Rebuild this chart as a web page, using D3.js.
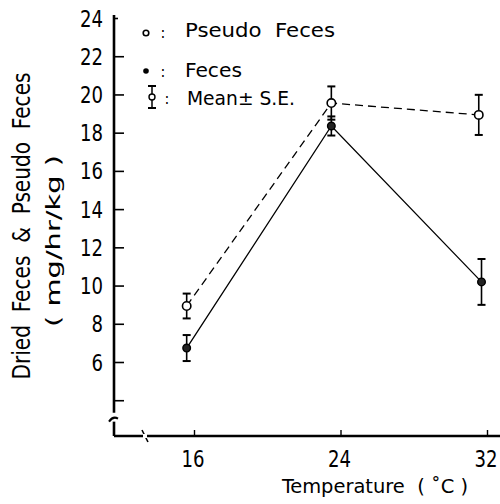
<!DOCTYPE html>
<html><head><meta charset="utf-8">
<script src="https://cdn.jsdelivr.net/npm/d3@7"></script>
<style>html,body{margin:0;padding:0;background:#fff;}svg{display:block;}text{white-space:pre;}</style>
</head><body>
<script>
// ---- data ----
const temps = [15.6, 23.5, 31.55];          // plotted x positions (°C)
const pseudoMean = [8.93, 19.55, 18.93];
const pseudoSE   = [0.65, 0.87, 1.05];
const fecesMean  = [6.73, 18.35, 10.19];
const fecesSE    = [0.68, 0.5, 1.2];
const xTickValues = [16, 24, 32];
const yTickValues = [4, 6, 8, 10, 12, 14, 16, 18, 20, 22, 24];
const yTickLabels = ["", "6", "8", "10", "12", "14", "16", "18", "20", "22", "24"];
const legendLabels = ["Pseudo  Feces", "Feces", "Mean\u00B1 S.E."];
const xTitle = "Temperature  ( \u02DAC )";
const yTitle1 = "Dried  Feces  &  Pseudo  Feces";
const yTitle2 = "( mg/hr/kg )";

const W = 500, H = 504;
const FONT = "'DejaVu Sans Condensed','DejaVu Sans',sans-serif";
const svg = d3.select("body").append("svg").attr("width", W).attr("height", H)
  .style("font-family", FONT);

const x = d3.scaleLinear().domain([16, 32]).range([194, 487]);
const y = d3.scaleLinear().domain([6, 24]).range([362, 18]);
const axisX = 114, axisY = 436;

// y axis line (with break)
svg.append("line").attr("x1", axisX).attr("x2", axisX).attr("y1", y(24.16)).attr("y2", y(3.35))
  .attr("stroke", "#000").attr("stroke-width", 2.6);
svg.append("path").attr("d", `M${axisX-5},${y(3.35)+9} q4,-6 9,-3`).attr("fill","none").attr("stroke","#000").attr("stroke-width",2);
svg.append("line").attr("x1", axisX).attr("x2", axisX).attr("y1", y(3.35)+9).attr("y2", axisY)
  .attr("stroke", "#000").attr("stroke-width", 2.6);

// y axis ticks (inward)
const yAxis = d3.axisRight(y).tickValues(yTickValues).tickSize(10).tickFormat(() => "");
const gy = svg.append("g").attr("transform", `translate(${axisX},0)`).call(yAxis);
gy.select(".domain").remove();
gy.selectAll(".tick line").attr("stroke", "#000").attr("stroke-width", 1.6);
gy.selectAll(".tick").filter(d => d === 24).select("line").attr("x2", 4);

// y tick labels
svg.append("g").selectAll("text").data(yTickValues).join("text")
  .attr("x", 103).attr("y", d => y(d) + 8.5)
  .attr("text-anchor", "end").attr("font-size", 23)
  .attr("textLength", (d, i) => yTickLabels[i].length * 11.5)
  .attr("lengthAdjust", "spacingAndGlyphs")
  .text((d, i) => yTickLabels[i]);

// x axis line with break
svg.append("line").attr("x1", axisX).attr("x2", W).attr("y1", axisY).attr("y2", axisY)
  .attr("stroke", "#000").attr("stroke-width", 2.4);
svg.append("path").attr("d", `M142,${axisY-6} L148,${axisY+6}`).attr("stroke", "#000").attr("stroke-width", 1.6);
svg.append("rect").attr("x", 143).attr("y", axisY-2).attr("width", 4).attr("height", 4).attr("fill", "#fff");

const xAxis = d3.axisTop(x).tickValues(xTickValues).tickSize(6).tickFormat(() => "");
const gx = svg.append("g").attr("transform", `translate(0,${axisY})`).call(xAxis);
gx.select(".domain").remove();
gx.selectAll(".tick line").attr("stroke", "#000").attr("stroke-width", 1.4);

svg.append("g").selectAll("text").data(xTickValues).join("text")
  .attr("x", d => x(d) - 1).attr("y", 467).attr("text-anchor", "middle")
  .attr("font-size", 23).attr("textLength", 23).attr("lengthAdjust", "spacingAndGlyphs")
  .text(d => d);

// axis titles
svg.append("text").attr("x", 282).attr("y", 493).attr("font-size", 20)
  .attr("textLength", 186).attr("lengthAdjust", "spacingAndGlyphs").text(xTitle);
svg.append("text").attr("transform", "translate(30,226) rotate(-90)").attr("text-anchor", "middle")
  .attr("font-size", 24).attr("textLength", 307).attr("lengthAdjust", "spacingAndGlyphs").text(yTitle1);
svg.append("text").attr("transform", "translate(60,241) rotate(-90)").attr("text-anchor", "middle")
  .attr("font-size", 20).attr("textLength", 172).attr("lengthAdjust", "spacingAndGlyphs").text(yTitle2);

// series
const pseudo = temps.map((t, i) => ({t, m: pseudoMean[i], se: pseudoSE[i]}));
const feces = temps.map((t, i) => ({t: i === 2 ? 31.7 : t, m: fecesMean[i], se: fecesSE[i]}));
const line = d3.line().x(d => x(d.t)).y(d => y(d.m));

svg.append("path").datum(pseudo).attr("d", line).attr("fill", "none")
  .attr("stroke", "#000").attr("stroke-width", 1.3).attr("stroke-dasharray", "8,5");
svg.append("path").datum(feces).attr("d", line).attr("fill", "none")
  .attr("stroke", "#000").attr("stroke-width", 1.3);

function errbars(data) {
  const g = svg.append("g").attr("stroke", "#000");
  data.forEach(d => {
    const cx = x(d.t), t = y(d.m + d.se), b = y(d.m - d.se);
    g.append("line").attr("x1", cx).attr("x2", cx).attr("y1", t).attr("y2", b).attr("stroke-width", 1.6);
    g.append("line").attr("x1", cx-4).attr("x2", cx+4).attr("y1", t).attr("y2", t).attr("stroke-width", 2);
    g.append("line").attr("x1", cx-4).attr("x2", cx+4).attr("y1", b).attr("y2", b).attr("stroke-width", 2);
  });
}
errbars(pseudo); errbars(feces);

svg.append("g").selectAll("circle").data(pseudo).join("circle")
  .attr("cx", d => x(d.t)).attr("cy", d => y(d.m)).attr("r", 4.2)
  .attr("fill", "#fff").attr("stroke", "#000").attr("stroke-width", 1.6);
svg.append("g").selectAll("circle").data(feces).join("circle")
  .attr("cx", d => x(d.t)).attr("cy", d => y(d.m)).attr("r", 3.8)
  .attr("fill", "#222").attr("stroke", "#000").attr("stroke-width", 1.4);

// legend
const lg = svg.append("g");
lg.append("circle").attr("cx", 146).attr("cy", 33).attr("r", 2.8).attr("fill", "#fff").attr("stroke", "#000").attr("stroke-width", 1.6);
lg.append("circle").attr("cx", 146).attr("cy", 71).attr("r", 2.8).attr("fill", "#000");
lg.append("line").attr("x1", 152).attr("x2", 152).attr("y1", 86).attr("y2", 108).attr("stroke", "#000").attr("stroke-width", 1.5);
lg.append("line").attr("x1", 148).attr("x2", 156).attr("y1", 86).attr("y2", 86).attr("stroke", "#000").attr("stroke-width", 2);
lg.append("line").attr("x1", 148).attr("x2", 156).attr("y1", 108).attr("y2", 108).attr("stroke", "#000").attr("stroke-width", 2);
lg.append("circle").attr("cx", 152).attr("cy", 97).attr("r", 3).attr("fill", "#fff").attr("stroke", "#000").attr("stroke-width", 1.4);
[[163, 38], [163, 77], [167, 104]].forEach(p =>
  lg.append("text").attr("x", p[0]).attr("y", p[1]).attr("font-size", 16).attr("text-anchor", "middle").text(":"));
const legPos = [[185, 37, 150], [185, 77, 57], [187, 105, 108]];
lg.selectAll("text.lab").data(legendLabels).join("text").attr("class", "lab")
  .attr("x", (d, i) => legPos[i][0]).attr("y", (d, i) => legPos[i][1])
  .attr("font-size", 20).attr("textLength", (d, i) => legPos[i][2]).attr("lengthAdjust", "spacingAndGlyphs")
  .text(d => d);
</script>
</body></html>
